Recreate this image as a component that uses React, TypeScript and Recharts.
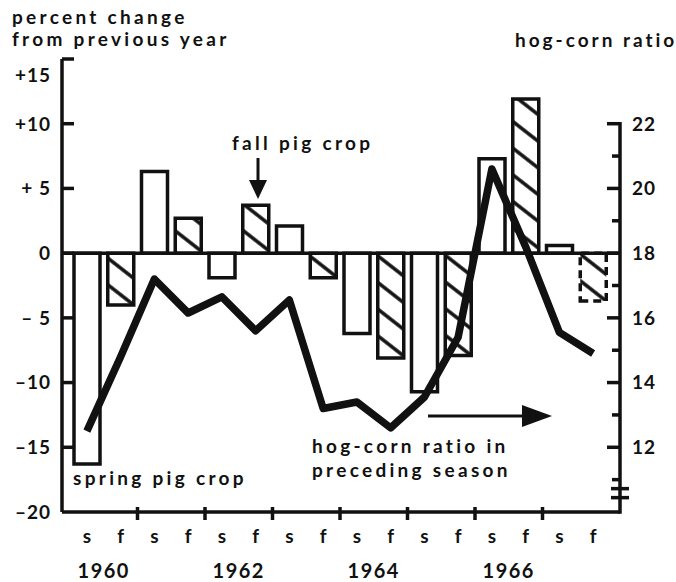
import React from 'react';
import { ComposedChart, Bar, Line, XAxis, YAxis, ReferenceLine, Cell } from 'recharts';

// spring (s) and fall (f) pig crops, 1960-1967
const seasons = ['s', 'f', 's', 'f', 's', 'f', 's', 'f', 's', 'f', 's', 'f', 's', 'f', 's', 'f'];
const years = ['1960', '1961', '1962', '1963', '1964', '1965', '1966', '1967'];
const yearLabels = ['1960', '', '1962', '', '1964', '', '1966', ''];

// percent change from previous year
const pctChange = [-16.3, -4.0, 6.3, 2.7, -1.9, 3.7, 2.1, -1.9, -6.2, -8.1, -10.7, -7.9, 7.3, 11.9, 0.6, -3.7];
// last fall crop is an estimate (dashed outline)
const estimated = [false, false, false, false, false, false, false, false, false, false, false, false, false, false, false, true];

// hog-corn ratio in preceding season
const hogCorn = [12.5, 14.8, 17.2, 16.15, 16.65, 15.6, 16.55, 13.2, 13.4, 12.6, 13.55, 15.4, 20.6, 18.2, 15.55, 14.9];

const leftTicks = [-20, -15, -10, -5, 0, 5, 10, 15];
const leftTickLabels = ['–20', '–15', '–10', '– 5', '0', '+ 5', '+10', '+15'];
const rightTicks = [11, 12, 13, 14, 15, 16, 17, 18, 19, 20, 21, 22];
const rightTickLabels = ['', '12', '', '14', '', '16', '', '18', '', '20', '', '22'];

const W = 676;
const H = 582;
const PLOT_L = 62;
const PLOT_R = 620;
const PLOT_T = 59;
const PLOT_B = 512;
const PAD_L = 8;
const PAD_R = 10;
const BAND = (PLOT_R - PLOT_L - PAD_L - PAD_R) / seasons.length;

const FONT = 'Lato, "DejaVu Sans", sans-serif';
const INK = '#111';

const data = seasons.map((s, i) => ({
  cat: years[Math.floor(i / 2)] + s,
  season: s,
  pct: pctChange[i],
  ratio: hogCorn[i],
}));

const LeftTick = (props: any) => {
  const { x, y, payload } = props;
  const i = leftTicks.indexOf(payload.value);
  // the top label sits a little under its tick, as in the original
  const ly = payload.value === 15 ? y + 16 : y;
  return (
    <g>
      {payload.value !== -20 && <line x1={x} x2={x + 12} y1={y} y2={y} stroke={INK} strokeWidth={3.5} />}
      <text x={x - 11} y={ly} dy="0.36em" textAnchor="end" fontSize={19} fontWeight={700} letterSpacing={1} fill={INK}>
        {leftTickLabels[i]}
      </text>
    </g>
  );
};

const RightTick = (props: any) => {
  const { x, y, payload } = props;
  const v = payload.value;
  const i = rightTicks.indexOf(v);
  const major = v % 2 === 0;
  return (
    <g>
      {v === 22 && <line x1={x} x2={x} y1={y - 1.75} y2={PLOT_B + 1.75} stroke={INK} strokeWidth={3.5} />}
      <line x1={x - (major ? 13 : 8)} x2={x} y1={y} y2={y} stroke={INK} strokeWidth={3.5} />
      {rightTickLabels[i] && (
        <text x={x + 12} y={y} dy="0.36em" textAnchor="start" fontSize={19} fontWeight={700} letterSpacing={1} fill={INK}>
          {rightTickLabels[i]}
        </text>
      )}
      {v === 11 && (
        <g>
          <line x1={x - 9} x2={x + 9} y1={y + 9} y2={y + 9} stroke={INK} strokeWidth={3.5} />
          <line x1={x - 9} x2={x + 9} y1={y + 18} y2={y + 18} stroke={INK} strokeWidth={3.5} />
        </g>
      )}
    </g>
  );
};

const XTick = (props: any) => {
  const { x, y, index } = props;
  const yearIdx = Math.floor(index / 2);
  return (
    <g>
      <text x={x} y={y + 24} dy="0.36em" textAnchor="middle" fontSize={19} fontWeight={700} fill={INK}>
        {seasons[index]}
      </text>
      {index % 2 === 1 && index < seasons.length - 1 && (
        <line x1={x + BAND / 2} x2={x + BAND / 2} y1={y - 5} y2={y + 8} stroke={INK} strokeWidth={3.5} />
      )}
      {index % 2 === 0 && yearLabels[yearIdx] && (
        <text x={x + BAND / 2} y={y + 66} textAnchor="middle" fontSize={20} fontWeight={700} letterSpacing={1.5} fill={INK}>
          {yearLabels[yearIdx]}
        </text>
      )}
    </g>
  );
};

export default function App() {
  const label = { fontSize: 19, fontWeight: 700, letterSpacing: 3.3, fill: INK } as const;
  return (
    <div style={{ position: 'absolute', left: 0, top: 0, width: W, height: H, background: '#fff', fontFamily: FONT }}>
      <svg width={0} height={0} style={{ position: 'absolute' }}>
        <defs>
          <pattern id="hatch" patternUnits="userSpaceOnUse" width={21} height={21} patternTransform="rotate(-52)">
            <rect width={21} height={21} fill="#fff" />
            <line x1={10} x2={10} y1={0} y2={21} stroke={INK} strokeWidth={3.5} />
          </pattern>
        </defs>
      </svg>

      <ComposedChart
        width={W}
        height={H}
        data={data}
        margin={{ top: PLOT_T, right: W - PLOT_R - 50, bottom: 0, left: PLOT_L - 50 }}
        style={{ fontFamily: FONT }}
      >
        <XAxis
          dataKey="cat"
          interval={0}
          height={70}
          padding={{ left: PAD_L, right: PAD_R }}
          axisLine={{ stroke: INK, strokeWidth: 3.5 }}
          tickLine={false}
          tickSize={0}
          tickMargin={0}
          tick={<XTick />}
        />
        <YAxis
          yAxisId="left"
          type="number"
          domain={[-20, 15]}
          ticks={leftTicks}
          interval={0}
          width={50}
          axisLine={{ stroke: INK, strokeWidth: 3.5 }}
          tickLine={false}
          tickSize={0}
          tickMargin={0}
          tick={<LeftTick />}
        />
        <YAxis
          yAxisId="right"
          orientation="right"
          type="number"
          domain={[10, 24]}
          ticks={rightTicks}
          interval={0}
          width={50}
          axisLine={false}
          tickLine={false}
          tickSize={0}
          tickMargin={0}
          tick={<RightTick />}
        />
        <Bar yAxisId="left" dataKey="pct" barSize={26} isAnimationActive={false}>
          {data.map((d, i) => (
            <Cell
              key={d.cat}
              fill={d.season === 's' ? '#fff' : 'url(#hatch)'}
              stroke={INK}
              strokeWidth={3.5}
              strokeDasharray={estimated[i] ? '8 5' : undefined}
            />
          ))}
        </Bar>
        <ReferenceLine yAxisId="left" y={0} stroke={INK} strokeWidth={3.5} />
        <Line
          yAxisId="right"
          type="linear"
          dataKey="ratio"
          stroke={INK}
          strokeWidth={7.5}
          strokeLinejoin="round"
          dot={false}
          activeDot={false}
          isAnimationActive={false}
        />
      </ComposedChart>

      <svg width={W} height={H} style={{ position: 'absolute', left: 0, top: 0, pointerEvents: 'none', fontFamily: FONT }}>
        <text x={12} y={24} {...label}>percent change</text>
        <text x={12} y={46} {...label}>from previous year</text>
        <text x={515} y={47} {...label} letterSpacing={3}>hog-corn ratio</text>

        <text x={232} y={150} {...label}>fall pig crop</text>
        <line x1={258} x2={258} y1={158} y2={184} stroke={INK} strokeWidth={3} />
        <polygon points="249,180 267,180 258,199" fill={INK} />

        <text x={73} y={485} {...label}>spring pig crop</text>

        <text x={312} y={453} {...label}>hog-corn ratio in</text>
        <text x={312} y={477} {...label}>preceding season</text>
        <line x1={428} x2={526} y1={416} y2={416} stroke={INK} strokeWidth={3} />
        <polygon points="522,405 552,416 522,427" fill={INK} />
      </svg>
    </div>
  );
}
